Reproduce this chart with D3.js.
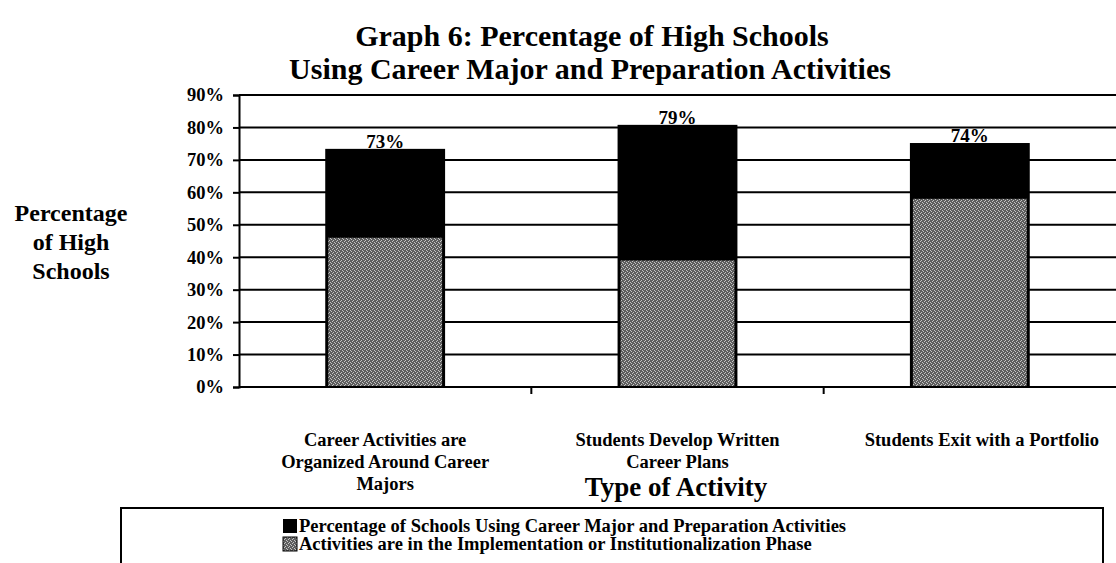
<!DOCTYPE html>
<html>
<head>
<meta charset="utf-8">
<script src="https://cdn.jsdelivr.net/npm/d3@7"></script>
<style>
  body { margin: 0; background: #fff; }
  text { font-family: "Liberation Serif", "Times New Roman", serif; font-weight: bold; fill: #000; }
</style>
</head>
<body>
<div id="chart"></div>
<script>
// data
const categories = [
    ["Career Activities are", "Organized Around Career", "Majors"],
    ["Students Develop Written", "Career Plans"],
    ["Students Exit with a Portfolio"]
];
const totalValues = [73.4, 80.8, 75.2];          // bar heights as drawn
const totalLabels = ["73%", "79%", "74%"];        // printed labels
const phaseValues = [46, 39, 58];                 // implementation / institutionalization
const yTicks = [0, 10, 20, 30, 40, 50, 60, 70, 80, 90];
const legendLabels = [
    "Percentage of Schools Using Career Major and Preparation Activities",
    "Activities are in the Implementation or Institutionalization Phase"
];

const width = 1116, height = 563;
const margin = {top: 95, right: 0, bottom: 176, left: 239};
const plotW = width - margin.left - margin.right;
const plotH = height - margin.top - margin.bottom;

const svg = d3.select("#chart").append("svg")
    .attr("width", width)
    .attr("height", height);

// dithered grey fill like the scan
const defs = svg.append("defs");
const pat = defs.append("pattern")
    .attr("id", "dither")
    .attr("width", 4).attr("height", 4)
    .attr("patternUnits", "userSpaceOnUse");
pat.append("rect").attr("width", 4).attr("height", 4).attr("fill", "#5e5e5e");
[[0, 0], [2, 1], [1, 2], [3, 3]].forEach(p =>
    pat.append("rect").attr("x", p[0]).attr("y", p[1])
        .attr("width", 1).attr("height", 1).attr("fill", "#c4c4c4"));

// title
svg.append("text")
    .attr("x", 592).attr("y", 46)
    .attr("text-anchor", "middle")
    .style("font-size", "30px")
    .text("Graph 6: Percentage of High Schools");
svg.append("text")
    .attr("x", 590).attr("y", 79)
    .attr("text-anchor", "middle")
    .style("font-size", "30px")
    .text("Using Career Major and Preparation Activities");

const g = svg.append("g").attr("transform", `translate(${margin.left},${margin.top})`);

const x = d3.scaleBand()
    .domain(d3.range(categories.length))
    .range([0, plotW])
    .paddingInner(0.59)
    .paddingOuter(0.295);

const y = d3.scaleLinear()
    .domain([0, 90])
    .range([plotH, 0]);

// gridlines
g.selectAll(".grid")
    .data(yTicks.filter(t => t > 0))
    .enter().append("line")
    .attr("x1", 0).attr("x2", plotW)
    .attr("y1", d => y(d)).attr("y2", d => y(d))
    .attr("stroke", "#000")
    .attr("stroke-width", 2);

// bars
g.selectAll(".total")
    .data(totalValues)
    .enter().append("rect")
    .attr("x", (d, i) => x(i))
    .attr("y", d => y(d))
    .attr("width", x.bandwidth())
    .attr("height", d => plotH - y(d))
    .attr("fill", "#000");

g.selectAll(".phase")
    .data(phaseValues)
    .enter().append("rect")
    .attr("x", (d, i) => x(i) + 3)
    .attr("y", d => y(d))
    .attr("width", x.bandwidth() - 6)
    .attr("height", d => plotH - y(d))
    .attr("fill", "url(#dither)");

g.selectAll(".vlabel")
    .data(totalValues)
    .enter().append("text")
    .attr("x", (d, i) => x(i) + x.bandwidth() / 2)
    .attr("y", d => y(d) - 1)
    .attr("text-anchor", "middle")
    .style("font-size", "19px")
    .text((d, i) => totalLabels[i]);

// y axis
const yAxis = g.append("g")
    .call(d3.axisLeft(y).tickValues(yTicks).tickSize(6).tickFormat(d => d + "%"));
yAxis.select(".domain").attr("stroke", "#000").attr("stroke-width", 2);
yAxis.selectAll(".tick line").attr("stroke", "#000").attr("stroke-width", 2);
yAxis.selectAll(".tick text")
    .attr("x", -15)
    .style("font-size", "18.5px")
    .style("font-family", "'Liberation Serif', serif")
    .style("font-weight", "bold");

// x axis baseline with ticks between categories
g.append("line")
    .attr("x1", 0).attr("x2", plotW)
    .attr("y1", plotH).attr("y2", plotH)
    .attr("stroke", "#000").attr("stroke-width", 2);
g.selectAll(".xtick")
    .data(d3.range(1, categories.length))
    .enter().append("line")
    .attr("x1", i => x(i) - x.step() * x.paddingInner() / 2)
    .attr("x2", i => x(i) - x.step() * x.paddingInner() / 2)
    .attr("y1", plotH).attr("y2", plotH + 7)
    .attr("stroke", "#000").attr("stroke-width", 2);

// category labels
categories.forEach((lines, i) => {
    const t = g.append("text")
        .attr("text-anchor", "middle")
        .style("font-size", "18.5px");
    lines.forEach((ln, j) => {
        t.append("tspan")
            .attr("x", x(i) + x.bandwidth() / 2 + (i === categories.length - 1 ? 12 : 0))
            .attr("y", plotH + 59 + j * 22)
            .text(ln);
    });
});

// axis titles
svg.append("text")
    .attr("x", 676).attr("y", 496)
    .attr("text-anchor", "middle")
    .style("font-size", "27px")
    .text("Type of Activity");

const yTitle = svg.append("text")
    .attr("text-anchor", "middle")
    .style("font-size", "24px");
["Percentage", "of High", "Schools"].forEach((ln, j) => {
    yTitle.append("tspan").attr("x", 71).attr("y", 221 + j * 29).text(ln);
});

// legend
svg.append("rect")
    .attr("x", 121).attr("y", 508)
    .attr("width", 982).attr("height", 70)
    .attr("fill", "none")
    .attr("stroke", "#000")
    .attr("stroke-width", 2);

const legend = svg.selectAll(".legend")
    .data(legendLabels)
    .enter().append("g")
    .attr("transform", (d, i) => `translate(283,${519 + i * 18})`);
legend.append("rect")
    .attr("width", 14).attr("height", 14)
    .attr("fill", (d, i) => i === 0 ? "#000" : "url(#dither)")
    .attr("stroke", (d, i) => i === 0 ? "none" : "#000");
legend.append("text")
    .attr("x", 16).attr("y", 13)
    .style("font-size", "18.5px")
    .text(d => d);
</script>
</body>
</html>
